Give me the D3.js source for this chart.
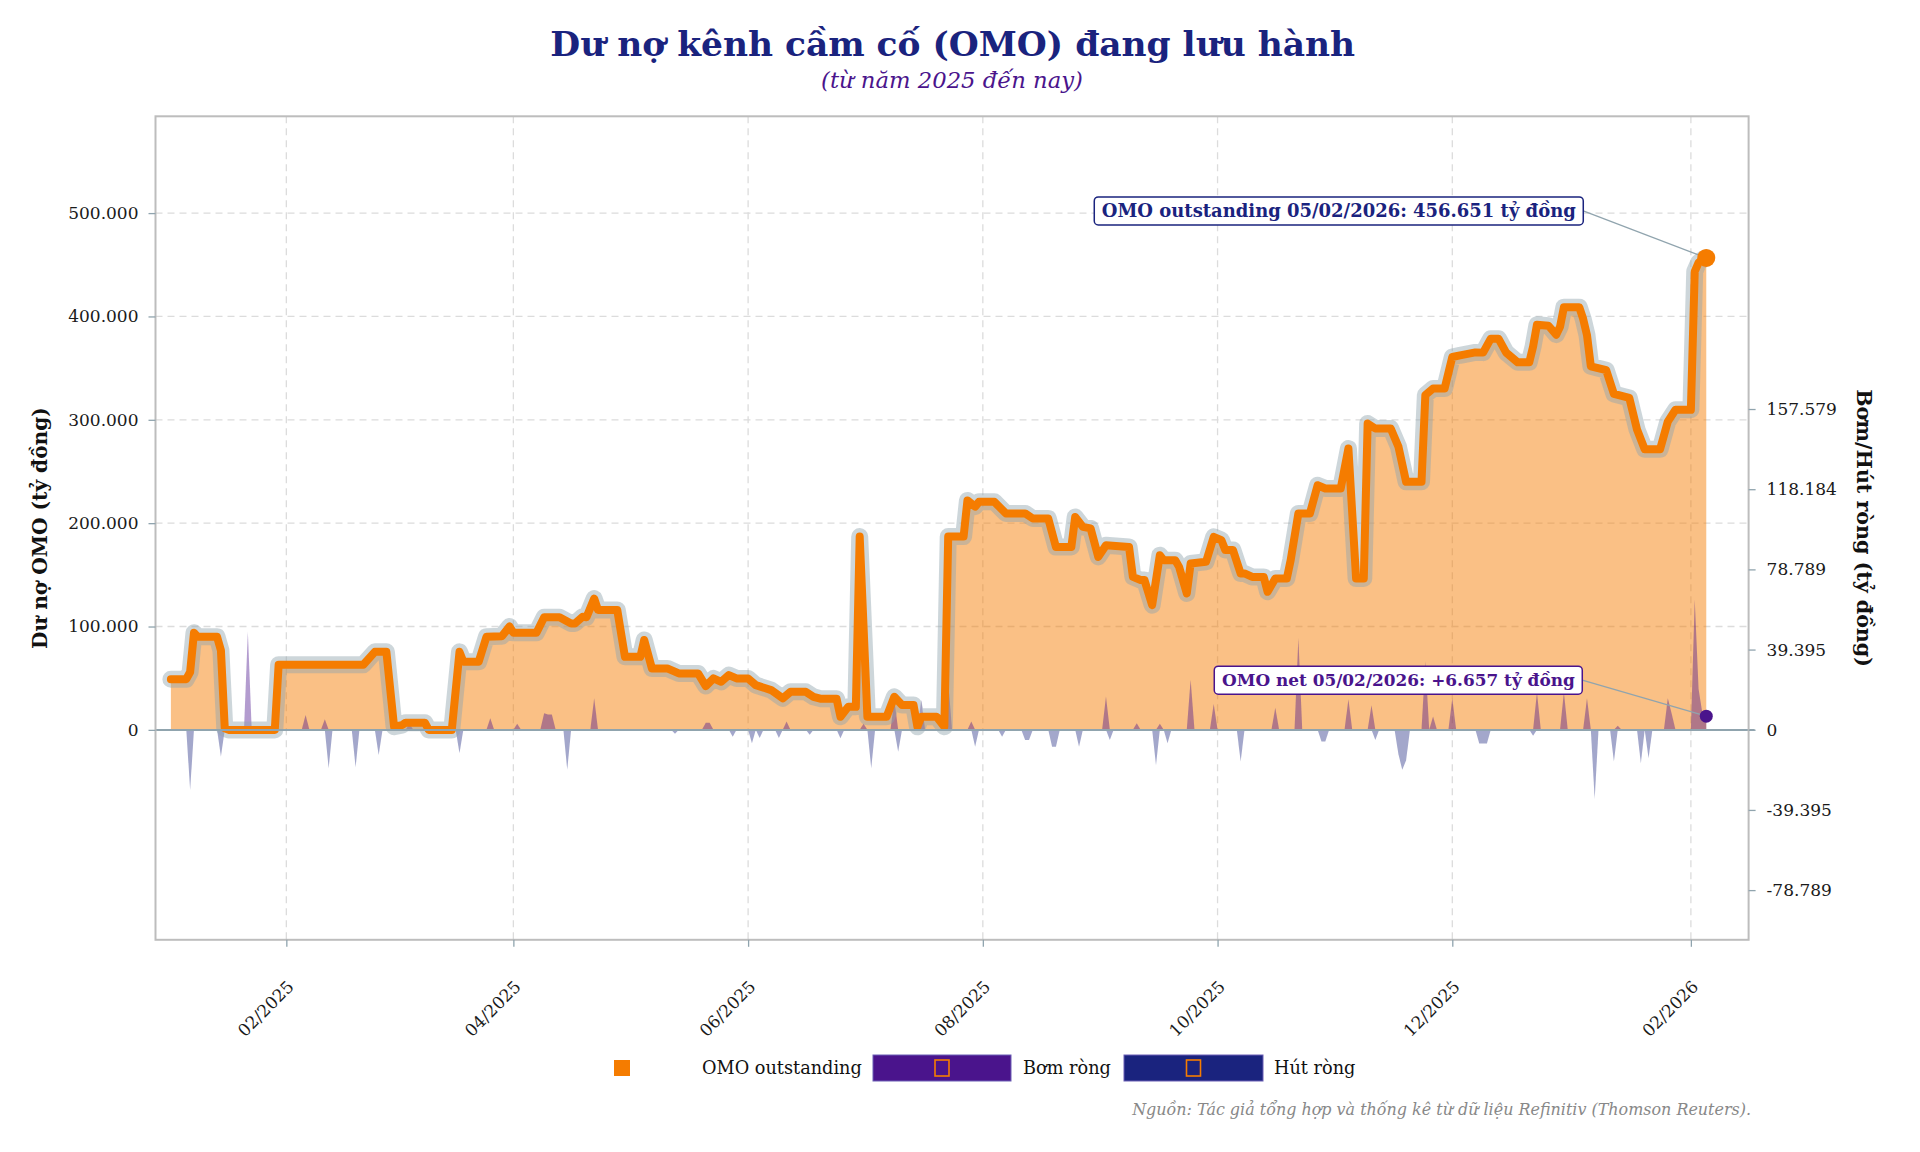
<!DOCTYPE html>
<html>
<head>
<meta charset="utf-8">
<script src="https://cdn.jsdelivr.net/npm/d3@7"></script>
<style>
  body { margin: 0; background: #fff; }
  svg { display: block; }
  text { font-family: "DejaVu Serif", serif; }
</style>
</head>
<body>
<svg id="chart" width="1920" height="1152"></svg>
<script>
// OMO outstanding (ty dong)
const omoDates = [
  "2025-01-02","2025-01-06","2025-01-07","2025-01-08","2025-01-09","2025-01-14","2025-01-15","2025-01-16","2025-01-17",
  "2025-01-29","2025-01-30","2025-02-21","2025-02-24","2025-02-27","2025-03-01","2025-03-03","2025-03-04","2025-03-09",
  "2025-03-10","2025-03-16","2025-03-18","2025-03-19","2025-03-23","2025-03-25","2025-03-29","2025-03-31","2025-04-01",
  "2025-04-07","2025-04-09","2025-04-13","2025-04-16","2025-04-17","2025-04-19","2025-04-20","2025-04-22","2025-04-23",
  "2025-04-28","2025-04-30","2025-05-04","2025-05-05","2025-05-07","2025-05-11","2025-05-14","2025-05-19","2025-05-21",
  "2025-05-23","2025-05-25","2025-05-27","2025-05-29","2025-06-01","2025-06-03","2025-06-07","2025-06-10","2025-06-12",
  "2025-06-16","2025-06-18","2025-06-20","2025-06-24","2025-06-25","2025-06-27","2025-06-29","2025-06-30","2025-07-02",
  "2025-07-07","2025-07-09","2025-07-11","2025-07-14","2025-07-15","2025-07-16","2025-07-20","2025-07-22","2025-07-23",
  "2025-07-27","2025-07-28","2025-07-30","2025-07-31","2025-08-04","2025-08-07","2025-08-12","2025-08-14","2025-08-18",
  "2025-08-20","2025-08-24","2025-08-25","2025-08-27","2025-08-29","2025-08-31","2025-09-02","2025-09-08","2025-09-09",
  "2025-09-11","2025-09-12","2025-09-14","2025-09-16","2025-09-17","2025-09-20","2025-09-21","2025-09-23","2025-09-24",
  "2025-09-28","2025-09-30","2025-10-02","2025-10-03","2025-10-05","2025-10-07","2025-10-08","2025-10-10","2025-10-13",
  "2025-10-14","2025-10-16","2025-10-19","2025-10-20","2025-10-22","2025-10-25","2025-10-27","2025-10-29","2025-11-02",
  "2025-11-04","2025-11-06","2025-11-08","2025-11-09","2025-11-11","2025-11-15","2025-11-17","2025-11-19","2025-11-23",
  "2025-11-24","2025-11-26","2025-11-29","2025-12-01","2025-12-03","2025-12-07","2025-12-09","2025-12-11","2025-12-13",
  "2025-12-15","2025-12-18","2025-12-21","2025-12-22","2025-12-23","2025-12-26","2025-12-28","2025-12-29","2025-12-30",
  "2026-01-03","2026-01-04","2026-01-05","2026-01-06","2026-01-10","2026-01-12","2026-01-16","2026-01-18","2026-01-20",
  "2026-01-24","2026-01-26","2026-01-28","2026-02-01","2026-02-02","2026-02-03","2026-02-04","2026-02-05"
];
const omoValues = [
  49000,49000,56000,94000,90000,90000,77000,1500,0,
  0,63000,63000,75500,75500,3000,4500,7000,7000,
  0,0,75500,66000,66000,90000,90500,100000,94000,
  94000,109000,109000,103000,103000,109400,109000,127000,116000,
  116000,70700,70700,87000,59500,59500,54600,54600,42400,
  49800,46500,53000,49800,49800,43300,38500,30500,36800,
  36800,32000,30000,30000,12700,22300,22300,187000,12700,
  12700,32000,24000,24000,3000,12700,12700,3000,187000,
  187000,222000,216000,220600,220600,209400,209400,204500,204500,
  177000,177000,206000,196400,195000,167400,178700,177000,148000,
  145000,145000,120700,169000,164200,164200,157700,132000,161000,
  162600,186800,183600,174000,174000,151400,151400,148000,148000,
  133600,146500,146500,164200,209400,209400,236700,233600,233600,
  272200,146500,146500,296400,291600,291600,274000,240000,240000,
  324000,330300,330300,360800,362400,365200,365000,378500,378500,
  365000,355600,355600,370900,391900,391000,382400,390000,409000,
  409000,397700,382000,351800,348000,325000,321200,290600,271500,
  271500,298300,309700,309700,443500,452000,455000,456651
];

// Net OMO injection (+) / withdrawal (-), ty dong, days that differ from zero
const netDates = [
  "2025-01-07","2025-01-15","2025-01-22","2025-02-06","2025-02-11","2025-02-12","2025-02-19","2025-02-25","2025-03-05",
  "2025-03-18","2025-03-26","2025-04-02","2025-04-09","2025-04-10","2025-04-11","2025-04-15","2025-04-22","2025-05-13",
  "2025-05-21","2025-05-22","2025-05-28","2025-06-02","2025-06-04","2025-06-09","2025-06-11","2025-06-17","2025-06-25",
  "2025-07-01","2025-07-03","2025-07-09","2025-07-10","2025-07-16","2025-07-23","2025-07-29","2025-07-30","2025-08-06",
  "2025-08-12","2025-08-13","2025-08-19","2025-08-20","2025-08-26","2025-09-02","2025-09-03","2025-09-10","2025-09-15",
  "2025-09-16","2025-09-18","2025-09-24","2025-09-30","2025-10-07","2025-10-16","2025-10-22","2025-10-28","2025-10-29",
  "2025-11-04","2025-11-10","2025-11-11","2025-11-17","2025-11-18","2025-11-19","2025-11-24","2025-11-26","2025-12-01",
  "2025-12-08","2025-12-09","2025-12-10","2025-12-22","2025-12-23","2025-12-30","2026-01-05","2026-01-07","2026-01-12",
  "2026-01-13","2026-01-19","2026-01-21","2026-01-26","2026-01-27","2026-02-02","2026-02-03","2026-02-04","2026-02-05"
];
const netValues = [
  -29600,-13200,48200,7300,5100,-18900,-18400,-12400,3000,
  -11600,5600,3000,8100,7500,7500,-19700,15500,-2000,
  3500,3500,-3400,-6600,-4000,-4000,4000,-2400,-4200,
  3000,-18900,14600,-10800,14600,24000,4000,-8300,-3400,
  -5000,-5000,-8300,-8300,-8300,16300,-5000,3200,-17400,
  3000,-6600,24600,12600,-15600,10800,45000,-5800,-5800,
  15000,12000,-5000,-12000,-19700,-15000,33500,6500,15500,
  -6800,-6800,-6800,-3000,18400,18400,15500,-34000,-15600,
  2000,-16500,-14000,15500,8000,64000,20000,8000,6657
];

const xTickDates = ["2025-02-01","2025-04-01","2025-06-01","2025-08-01","2025-10-01","2025-12-01","2026-02-01"];
const leftTicks = [0, 100000, 200000, 300000, 400000, 500000];
const rightTicks = [-78789, -39395, 0, 39395, 78789, 118184, 157579];
const xDomain = ["2024-12-29", "2026-02-16"];
const leftDomain = [-203100, 593646];
const rightDomain = [-103200, 301400];

const ORANGE = "#F57C00", PURPLE = "#4A148C", NAVY = "#1A237E", STEEL = "#90A4AE";

const svg = d3.select("#chart");
const parse = d3.timeParse("%Y-%m-%d");
const locale = d3.formatLocale({decimal: ",", thousands: ".", grouping: [3], currency: ["", ""], minus: "-"});
const fmt = locale.format(",d");
const fmtSigned = locale.format("+,d");
const fmtDate = d3.timeFormat("%d/%m/%Y");
const fmtMonth = d3.timeFormat("%m/%Y");

const [L, R, T, B] = [155.5, 1748.6, 116.3, 939.8];

const x = d3.scaleTime().domain(xDomain.map(parse)).range([L, R]);
const yL = d3.scaleLinear().domain(leftDomain).range([B, T]);
const yR = d3.scaleLinear().domain(rightDomain).range([B, T]);

const omo = omoDates.map((d, i) => ({date: parse(d), v: omoValues[i]}));
const net = netDates.map((d, i) => ({date: parse(d), v: netValues[i]}));

// shrink/grow a text so that it takes a given width
function fit(sel, w) {
  const len = sel.node().getComputedTextLength();
  sel.attr("font-size", parseFloat(sel.attr("font-size")) * w / len);
  return sel;
}

// gridlines
const grid = svg.append("g");
grid.selectAll("line.h").data(leftTicks.filter(t => t !== 0)).enter().append("line")
  .attr("x1", L).attr("x2", R).attr("y1", d => yL(d)).attr("y2", d => yL(d))
  .attr("stroke", "#dcdcdc").attr("stroke-width", 1.3).attr("stroke-dasharray", "7,5");
grid.selectAll("line.v").data(xTickDates.map(parse)).enter().append("line")
  .attr("x1", d => x(d)).attr("x2", d => x(d)).attr("y1", T).attr("y2", B)
  .attr("stroke", "#dcdcdc").attr("stroke-width", 1.3).attr("stroke-dasharray", "7,5");

// outstanding area
svg.append("path")
  .attr("d", d3.area().x(d => x(d.date)).y0(yL(0)).y1(d => yL(d.v))(omo))
  .attr("fill", ORANGE).attr("fill-opacity", 0.48);

// net spikes, one run of consecutive days at a time
const day = 864e5;
const runs = [];
net.forEach(p => {
  const r = runs[runs.length - 1];
  if (r && p.date - r[r.length - 1].date <= day * 1.01) r.push(p); else runs.push([p]);
});
const lastNet = net[net.length - 1].date;
runs.forEach(r => {
  const end = r[r.length - 1].date;
  const pts = [{date: new Date(+r[0].date - day), v: 0}, ...r,
    {date: +end === +lastNet ? end : new Date(+end + day), v: 0}];
  svg.append("path")
    .attr("d", d3.area().x(d => x(d.date)).y0(yR(0)).y1(d => yR(Math.max(d.v, 0)))(pts))
    .attr("fill", PURPLE).attr("fill-opacity", 0.42);
  svg.append("path")
    .attr("d", d3.area().x(d => x(d.date)).y0(yR(0)).y1(d => yR(Math.min(d.v, 0)))(pts))
    .attr("fill", NAVY).attr("fill-opacity", 0.4);
});

// line with halo
const line = d3.line().x(d => x(d.date)).y(d => yL(d.v));
svg.append("path").attr("d", line(omo)).attr("fill", "none")
  .attr("stroke", STEEL).attr("stroke-opacity", 0.45).attr("stroke-width", 17)
  .attr("stroke-linejoin", "round").attr("stroke-linecap", "round");
svg.append("path").attr("d", line(omo)).attr("fill", "none")
  .attr("stroke", ORANGE).attr("stroke-width", 8)
  .attr("stroke-linejoin", "round").attr("stroke-linecap", "round");

// zero line
svg.append("line").attr("x1", L).attr("x2", R + 6).attr("y1", yL(0)).attr("y2", yL(0))
  .attr("stroke", STEEL).attr("stroke-width", 2);

// frame
svg.append("rect").attr("x", L).attr("y", T).attr("width", R - L).attr("height", B - T)
  .attr("fill", "none").attr("stroke", "#bdbdbd").attr("stroke-width", 2);

// axes
const leftAxis = svg.append("g").attr("transform", `translate(${L},0)`)
  .call(d3.axisLeft(yL).tickValues(leftTicks).tickFormat(fmt).tickSize(7).tickPadding(10));
const rightAxis = svg.append("g").attr("transform", `translate(${R},0)`)
  .call(d3.axisRight(yR).tickValues(rightTicks).tickFormat(fmt).tickSize(7).tickPadding(11));
const bottomAxis = svg.append("g").attr("transform", `translate(0,${B})`)
  .call(d3.axisBottom(x).tickValues(xTickDates.map(parse)).tickFormat(fmtMonth).tickSize(7));
[leftAxis, rightAxis, bottomAxis].forEach(a => {
  a.select(".domain").remove();
  a.selectAll(".tick line").attr("stroke", STEEL).attr("stroke-width", 1.3);
  a.selectAll(".tick text").attr("font-family", "DejaVu Serif").attr("font-size", 17).attr("fill", "#1a1a1a");
});
bottomAxis.selectAll(".tick text")
  .attr("text-anchor", "end").attr("dy", 0).attr("y", 0)
  .attr("transform", "translate(8,48) rotate(-45)");

// axis titles
fit(svg.append("text").attr("transform", `translate(47,${(T + B) / 2}) rotate(-90)`)
  .attr("text-anchor", "middle").attr("font-size", 20).attr("font-weight", "bold").attr("fill", "#111")
  .text("Dư nợ OMO (tỷ đồng)"), 242);
fit(svg.append("text").attr("transform", `translate(1857,${(T + B) / 2}) rotate(90)`)
  .attr("text-anchor", "middle").attr("font-size", 20).attr("font-weight", "bold").attr("fill", "#111")
  .text("Bơm/Hút ròng (tỷ đồng)"), 278);

// title
fit(svg.append("text").attr("x", 952.7).attr("y", 56).attr("text-anchor", "middle")
  .attr("font-size", 36).attr("font-weight", "bold").attr("fill", NAVY)
  .text("Dư nợ kênh cầm cố (OMO) đang lưu hành"), 805);
fit(svg.append("text").attr("x", 952).attr("y", 88).attr("text-anchor", "middle")
  .attr("font-size", 22).attr("font-style", "italic").attr("fill", PURPLE)
  .text("(từ năm 2025 đến nay)"), 262);

// end markers and annotations
const lastOmo = omo[omo.length - 1];
const lastN = net[net.length - 1];
const m1 = [x(lastOmo.date), yL(lastOmo.v)];
const m2 = [x(lastN.date), yR(lastN.v)];

function note(marker, dx, dy, txt, w, color) {
  const g = svg.append("g");
  const right = marker[0] + dx, cy = marker[1] + dy;
  g.append("line").attr("x1", right).attr("y1", cy).attr("x2", marker[0]).attr("y2", marker[1])
    .attr("stroke", STEEL).attr("stroke-width", 1.3);
  const rect = g.append("rect");
  fit(g.append("text").attr("font-size", 18).attr("font-weight", "bold").attr("fill", color)
    .attr("text-anchor", "end").attr("x", right - 7.5).attr("y", cy).attr("dy", "0.35em").text(txt), w);
  rect.attr("x", right - w - 15).attr("y", cy - 14).attr("width", w + 15).attr("height", 28)
    .attr("rx", 4).attr("fill", "#fff").attr("stroke", color).attr("stroke-width", 1.5);
}
note(m1, -123, -47, `OMO outstanding ${fmtDate(lastOmo.date)}: ${fmt(lastOmo.v)} tỷ đồng`, 474, NAVY);
note(m2, -124, -36, `OMO net ${fmtDate(lastN.date)}: ${fmtSigned(lastN.v)} tỷ đồng`, 353, PURPLE);

svg.append("circle").attr("cx", m1[0]).attr("cy", m1[1]).attr("r", 9).attr("fill", ORANGE);
svg.append("circle").attr("cx", m2[0]).attr("cy", m2[1]).attr("r", 6.5).attr("fill", PURPLE);

// legend
const lg = svg.append("g");
const ly = 1068;
lg.append("rect").attr("x", 614).attr("y", ly - 8).attr("width", 16).attr("height", 16).attr("fill", ORANGE);
const lt1 = fit(lg.append("text").attr("x", 702).attr("y", ly).attr("dy", "0.35em")
  .attr("font-size", 18).attr("fill", "#111").text("OMO outstanding"), 160);
const lfs = lt1.attr("font-size");
[[873, 1011, PURPLE, 1023, "Bơm ròng"], [1124, 1263, NAVY, 1274, "Hút ròng"]].forEach(([x0, x1, c, tx, label]) => {
  lg.append("rect").attr("x", x0).attr("y", ly - 13).attr("width", x1 - x0).attr("height", 26)
    .attr("fill", c).attr("stroke", "#6b5fb5").attr("stroke-width", 1);
  lg.append("rect").attr("x", (x0 + x1) / 2 - 7).attr("y", ly - 8).attr("width", 14).attr("height", 16)
    .attr("fill", "none").attr("stroke", ORANGE).attr("stroke-width", 1.6);
  lg.append("text").attr("x", tx).attr("y", ly).attr("dy", "0.35em")
    .attr("font-size", lfs).attr("fill", "#111").text(label);
});

// source
fit(svg.append("text").attr("x", 1751).attr("y", 1115).attr("text-anchor", "end")
  .attr("font-size", 16).attr("font-style", "italic").attr("fill", "#888")
  .text("Nguồn: Tác giả tổng hợp và thống kê từ dữ liệu Refinitiv (Thomson Reuters)."), 619);
</script>
</body>
</html>
